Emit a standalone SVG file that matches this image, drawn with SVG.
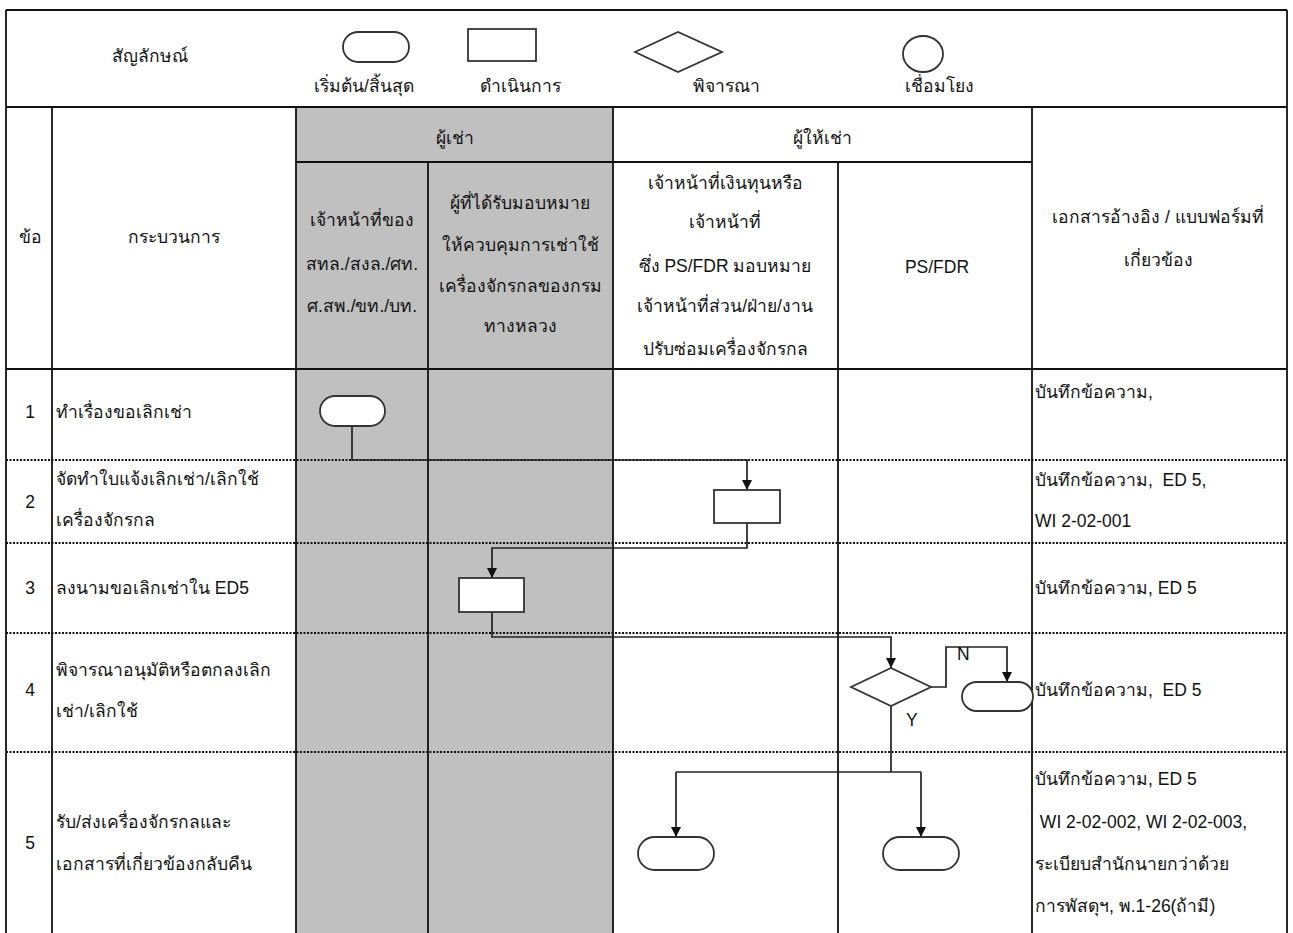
<svg xmlns="http://www.w3.org/2000/svg" width="1293" height="933" viewBox="0 0 1293 933">
<defs>
<marker id="arr" viewBox="0 0 10 10" refX="10" refY="5" markerWidth="10" markerHeight="10" markerUnits="userSpaceOnUse" orient="auto"><path d="M0,0 L10,5 L0,10 z" fill="#111"/></marker>
<style>
text{font-family:"Liberation Sans","DejaVu Sans","Noto Sans",sans-serif;font-size:17.5px;fill:#111}
.c{text-anchor:middle}
.g{stroke:#111;stroke-width:1.8;fill:none}
.d{stroke:#111;stroke-width:1.8;stroke-dasharray:2 1.5;fill:none}
.sh{fill:#fff;stroke:#333;stroke-width:1.8}
.cn{stroke:#222;stroke-width:1.7;fill:none}
</style>
</defs>
<rect width="1293" height="933" fill="#fff"/>
<rect x="296" y="107" width="317" height="826" fill="#c0c0c0"/>
<g id="grid">
<line class="d" x1="6" y1="460" x2="1287" y2="460"/>
<line class="d" x1="6" y1="543" x2="1287" y2="543"/>
<line class="d" x1="6" y1="633" x2="1287" y2="633"/>
<line class="d" x1="6" y1="752" x2="1287" y2="752"/>
<line class="g" x1="6" y1="10" x2="1287" y2="10"/>
<line class="g" x1="6" y1="107" x2="1287" y2="107"/>
<line class="g" x1="296" y1="162" x2="1032" y2="162"/>
<line class="g" x1="6" y1="369" x2="1287" y2="369"/>
<line class="g" x1="6" y1="10" x2="6" y2="933"/>
<line class="g" x1="1287" y1="10" x2="1287" y2="933"/>
<line class="g" x1="52" y1="107" x2="52" y2="933"/>
<line class="g" x1="296" y1="107" x2="296" y2="933"/>
<line class="g" x1="428" y1="162" x2="428" y2="933"/>
<line class="g" x1="613" y1="107" x2="613" y2="933"/>
<line class="g" x1="838" y1="162" x2="838" y2="933"/>
<line class="g" x1="1032" y1="107" x2="1032" y2="933"/>
</g>
<g id="legend">
<text class="c" x="150" y="62">สัญลักษณ์</text>
<rect class="sh" x="343" y="32" width="66" height="30" rx="15"/>
<text class="c" x="364" y="92">เริ่มต้น/สิ้นสุด</text>
<rect class="sh" x="468" y="29" width="68" height="32"/>
<text class="c" x="520" y="92">ดำเนินการ</text>
<polygon class="sh" points="635,52 678,32 722,52 678,72"/>
<text class="c" x="726" y="92">พิจารณา</text>
<ellipse class="sh" cx="923" cy="54" rx="20" ry="18"/>
<text class="c" x="939" y="92">เชื่อมโยง</text>
</g>
<g id="header">
<text class="c" x="30" y="243">ข้อ</text>
<text class="c" x="174" y="243">กระบวนการ</text>
<text class="c" x="455" y="144">ผู้เช่า</text>
<text class="c" x="822" y="144">ผู้ให้เช่า</text>
<text class="c" x="362" y="226">เจ้าหน้าที่ของ</text>
<text class="c" x="362" y="270">สทล./สงล./ศท.</text>
<text class="c" x="362" y="312">ศ.สพ./ขท./บท.</text>
<text class="c" x="520" y="209">ผู้ที่ได้รับมอบหมาย</text>
<text class="c" x="520" y="251">ให้ควบคุมการเช่าใช้</text>
<text class="c" x="520" y="292">เครื่องจักรกลของกรม</text>
<text class="c" x="520" y="332">ทางหลวง</text>
<text class="c" x="725" y="189">เจ้าหน้าที่เงินทุนหรือ</text>
<text class="c" x="725" y="228">เจ้าหน้าที่</text>
<text class="c" x="725" y="272">ซึ่ง PS/FDR มอบหมาย</text>
<text class="c" x="725" y="312">เจ้าหน้าที่ส่วน/ฝ่าย/งาน</text>
<text class="c" x="725" y="355">ปรับซ่อมเครื่องจักรกล</text>
<text class="c" x="937" y="273">PS/FDR</text>
<text class="c" x="1158" y="223">เอกสารอ้างอิง / แบบฟอร์มที่</text>
<text class="c" x="1158" y="266">เกี่ยวข้อง</text>
</g>
<g id="rows">
<text class="c" x="30" y="418">1</text>
<text x="56" y="418">ทำเรื่องขอเลิกเช่า</text>
<text class="c" x="30" y="508">2</text>
<text x="56" y="485">จัดทำใบแจ้งเลิกเช่า/เลิกใช้</text>
<text x="56" y="526">เครื่องจักรกล</text>
<text class="c" x="30" y="594">3</text>
<text x="56" y="594">ลงนามขอเลิกเช่าใน ED5</text>
<text class="c" x="30" y="696">4</text>
<text x="56" y="676">พิจารณาอนุมัติหรือตกลงเลิก</text>
<text x="56" y="717">เช่า/เลิกใช้</text>
<text class="c" x="30" y="849">5</text>
<text x="56" y="828">รับ/ส่งเครื่องจักรกลและ</text>
<text x="56" y="870">เอกสารที่เกี่ยวข้องกลับคืน</text>
</g>
<g id="docs">
<text x="1035" y="398">บันทึกข้อความ,</text>
<text x="1035" y="486" xml:space="preserve">บันทึกข้อความ,  ED 5,</text>
<text x="1035" y="527">WI 2-02-001</text>
<text x="1035" y="594">บันทึกข้อความ, ED 5</text>
<text x="1035" y="696" xml:space="preserve">บันทึกข้อความ,  ED 5</text>
<text x="1035" y="785">บันทึกข้อความ, ED 5</text>
<text x="1035" y="828" xml:space="preserve"> WI 2-02-002, WI 2-02-003,</text>
<text x="1035" y="870">ระเบียบสำนักนายกว่าด้วย</text>
<text x="1035" y="912">การพัสดุฯ, พ.1-26(ถ้ามี)</text>
</g>
<g id="connectors">
<polyline class="cn" points="352,426 352,460 747,460 747,490" marker-end="url(#arr)"/>
<polyline class="cn" points="747,523 747,548 492,548 492,578" marker-end="url(#arr)"/>
<polyline class="cn" points="492,612 492,637 891,637 891,668" marker-end="url(#arr)"/>
<polyline class="cn" points="931,687 946,687 946,647 1007,647 1007,682" marker-end="url(#arr)"/>
<polyline class="cn" points="891,706 891,772"/>
<polyline class="cn" points="676,772 921,772"/>
<line class="cn" x1="676" y1="772" x2="676" y2="837" marker-end="url(#arr)"/>
<line class="cn" x1="921" y1="772" x2="921" y2="837" marker-end="url(#arr)"/>
<text x="957" y="660">N</text>
<text x="906" y="726">Y</text>
</g>
<g id="n1"><rect class="sh" x="320" y="396" width="65" height="30" rx="15"/></g>
<g id="n2"><rect class="sh" x="714" y="490" width="66" height="33"/></g>
<g id="n3"><rect class="sh" x="459" y="578" width="65" height="34"/></g>
<g id="n4"><polygon class="sh" points="851,687 891,668 931,687 891,706"/></g>
<g id="n5"><rect class="sh" x="962" y="682" width="71" height="29" rx="14.5"/></g>
<g id="n6"><rect class="sh" x="638" y="837" width="76" height="33" rx="16.5"/></g>
<g id="n7"><rect class="sh" x="883" y="837" width="76" height="33" rx="16.5"/></g>
</svg>
